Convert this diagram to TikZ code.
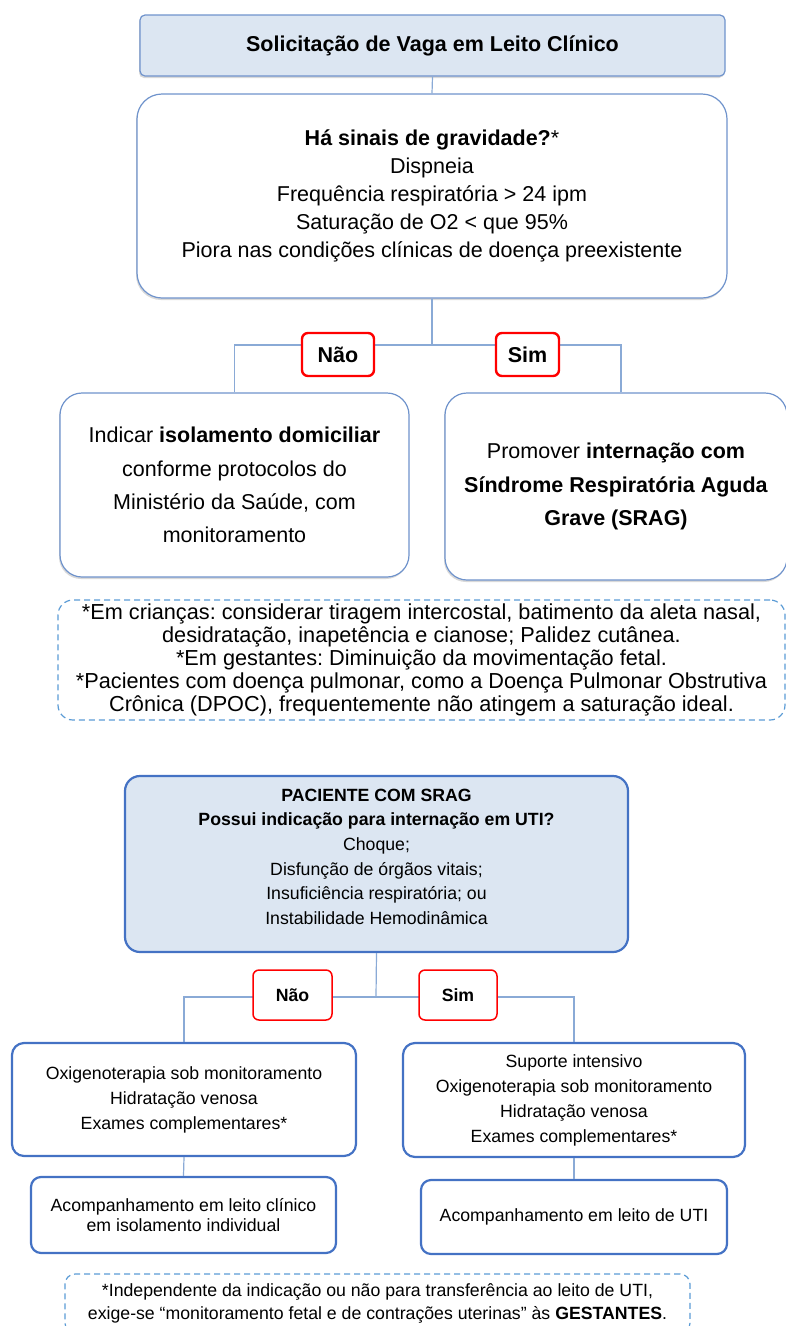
\documentclass[tikz,border=0pt]{standalone}
\usepackage{fontspec}
\setmainfont{Liberation Sans}
\frenchspacing
\usetikzlibrary{shadows}
\definecolor{fillblue}{HTML}{DCE6F2}
\definecolor{edgeblue}{HTML}{6F93CC}
\definecolor{darkblue}{HTML}{4472C4}
\definecolor{linkblue}{HTML}{8AAAD6}
\definecolor{dashblue}{HTML}{5B9BD5}
\tikzstyle{softbox} = [rectangle, draw=edgeblue, line width=1.2pt, fill=white, align=center, inner sep=0pt, drop shadow={shadow xshift=-1pt, shadow yshift=-2pt, opacity=0.3}, font=\fontsize{21.5pt}{28pt}\selectfont]
\tikzstyle{hardbox} = [rectangle, draw=darkblue, line width=2.2pt, fill=white, align=center, inner sep=0pt, rounded corners=12pt, font=\fontsize{17.7pt}{25pt}\selectfont]
\tikzstyle{answer} = [rectangle, draw=red, fill=white, rounded corners=6pt, inner sep=0pt, font=\bfseries]
\tikzstyle{note} = [rectangle, draw=dashblue, line width=1.2pt, dash pattern=on 6pt off 4pt, align=center, inner sep=0pt]
\tikzstyle{link} = [draw=linkblue, line width=1.2pt]

\begin{document}
\begin{tikzpicture}[x=1pt, y=-1pt]
        \useasboundingbox (0,0) rectangle (786,1326);

        \node[softbox, fill=fillblue, rounded corners=5pt, minimum width=585pt, minimum height=61pt, font=\fontsize{21.5pt}{26pt}\selectfont\bfseries] (solic) at (432.5,45.5) {Solicitação de Vaga em Leito Clínico};
        \node[softbox, rounded corners=25pt, minimum width=590pt, minimum height=204pt] (sinais) at (432,196)
            {\textbf{Há sinais de gravidade?}*\\Dispneia\\Frequência respiratória > 24 ipm\\Saturação de O2 < que 95\%\\Piora nas condições clínicas de doença preexistente};
        \node[softbox, rounded corners=22pt, minimum width=349pt, minimum height=184pt, font=\fontsize{21.5pt}{33.3pt}\selectfont] (isol) at (234.5,485)
            {Indicar \textbf{isolamento domiciliar}\\conforme protocolos do\\Ministério da Saúde, com\\monitoramento};
        \node[softbox, rounded corners=22pt, minimum width=342pt, minimum height=187pt, font=\fontsize{21.5pt}{33.5pt}\selectfont] (intern) at (616,486.5)
            {Promover \textbf{internação com}\\\textbf{Síndrome Respiratória Aguda}\\\textbf{Grave (SRAG)}};

        \coordinate (j1) at (432,345);
        \draw[link] (solic.south) -- (sinais.north);
        \draw[link] (sinais.south) -- (j1);
        \draw[link] (j1) -| (isol.north);
        \draw[link] (j1) -| ([xshift=5pt]intern.north);
        \node[answer, line width=2.4pt, minimum width=72pt, minimum height=43pt, font=\fontsize{21.5pt}{26pt}\selectfont\bfseries] (nao1) at (338,354.5) {Não};
        \node[answer, line width=2.4pt, minimum width=63pt, minimum height=43pt, font=\fontsize{21.5pt}{26pt}\selectfont\bfseries] (sim1) at (527.5,354.5) {Sim};

        \node[note, rounded corners=15pt, minimum width=727pt, minimum height=120pt, font=\fontsize{21.7pt}{22.8pt}\selectfont] (nota1) at (421.5,660)
            {*Em crianças: considerar tiragem intercostal, batimento da aleta nasal,\\desidratação, inapetência e cianose; Palidez cutânea.\\*Em gestantes: Diminuição da movimentação fetal.\\*Pacientes com doença pulmonar, como a Doença Pulmonar Obstrutiva\\Crônica (DPOC), frequentemente não atingem a saturação ideal.};

        \node[hardbox, fill=fillblue, rounded corners=15pt, minimum width=503pt, minimum height=176pt, font=\fontsize{17.7pt}{24.6pt}\selectfont] (srag) at (376.5,864)
            {\textbf{PACIENTE COM SRAG}\\\textbf{Possui indicação para internação em UTI?}\\Choque;\\Disfunção de órgãos vitais;\\Insuficiência respiratória; ou\\Instabilidade Hemodinâmica\\[-10pt]\mbox{}};
        \node[hardbox, minimum width=344pt, minimum height=113pt] (oxig) at (184,1099.5)
            {Oxigenoterapia sob monitoramento\\Hidratação venosa\\Exames complementares*};
        \node[hardbox, minimum width=342pt, minimum height=114pt] (suporte) at (574,1100)
            {Suporte intensivo\\Oxigenoterapia sob monitoramento\\Hidratação venosa\\Exames complementares*};
        \node[hardbox, rounded corners=10pt, minimum width=305pt, minimum height=76pt, font=\fontsize{17.7pt}{20pt}\selectfont] (acompc) at (183.5,1215)
            {Acompanhamento em leito clínico\\em isolamento individual};
        \node[hardbox, rounded corners=10pt, minimum width=306pt, minimum height=74pt] (acompu) at (574,1217)
            {Acompanhamento em leito de UTI};

        \coordinate (j2) at (376,997);
        \draw[link] (srag.south) -- (j2);
        \draw[link] (j2) -| (oxig.north);
        \draw[link] (j2) -| (suporte.north);
        \draw[link] (oxig.south) -- (acompc.north);
        \draw[link] (suporte.south) -- (acompu.north);
        \node[answer, line width=1.5pt, minimum width=79pt, minimum height=50pt, font=\fontsize{17.7pt}{22pt}\selectfont\bfseries] (nao2) at (292.5,995) {Não};
        \node[answer, line width=1.5pt, minimum width=78pt, minimum height=50pt, font=\fontsize{17.7pt}{22pt}\selectfont\bfseries] (sim2) at (458,995) {Sim};

        \node[note, rounded corners=10pt, minimum width=625pt, minimum height=59pt, font=\fontsize{17.7pt}{23pt}\selectfont] (nota2) at (377.5,1303.5)
            {*Independente da indicação ou não para transferência ao leito de UTI,\\exige-se “monitoramento fetal e de contrações uterinas” às \textbf{GESTANTES}.};
\end{tikzpicture}
\end{document}
